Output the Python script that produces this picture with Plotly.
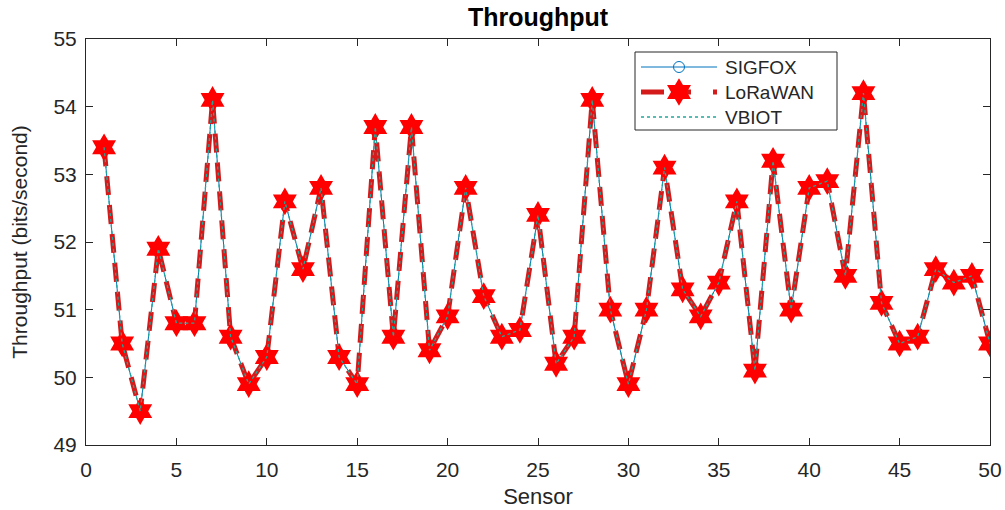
import plotly.graph_objects as go

# Sensor index and measured throughput (bits/second)
sensors = list(range(1, 51))
throughput = [
    53.4, 50.5, 49.5, 51.9, 50.8, 50.8, 54.1, 50.6, 49.9, 50.3,
    52.6, 51.6, 52.8, 50.3, 49.9, 53.7, 50.6, 53.7, 50.4, 50.9,
    52.8, 51.2, 50.6, 50.7, 52.4, 50.2, 50.6, 54.1, 51.0, 49.9,
    51.0, 53.1, 51.3, 50.9, 51.4, 52.6, 50.1, 53.2, 51.0, 52.8,
    52.9, 51.5, 54.2, 51.1, 50.5, 50.6, 51.6, 51.4, 51.5, 50.5,
]
sigfox = throughput
lorawan = throughput
vbiot = throughput

series_names = ["SIGFOX", "LoRaWAN", "VBIOT"]
x_ticks = [0, 5, 10, 15, 20, 25, 30, 35, 40, 45, 50]
y_ticks = [49, 50, 51, 52, 53, 54, 55]

FONT = "Liberation Sans, Arial, sans-serif"
AXIS_COLOR = "#262626"

# page geometry (pixels)
W, H = 1005, 510
M_L, M_R, M_T, M_B = 86, 15, 39, 65

styles = {
    "SIGFOX": dict(mode="lines+markers",
                   line=dict(color="#0072BD", width=1),
                   marker=dict(symbol="circle-open", size=11, color="#0072BD",
                               line=dict(width=1))),
    "LoRaWAN": dict(mode="lines+markers",
                    line=dict(color="#d41a1a", width=5, dash="19px,10px"),
                    marker=dict(symbol="hexagram", size=21, color="#ff0000",
                                line=dict(width=0))),
    "VBIOT": dict(mode="lines",
                  line=dict(color="#1fa89a", width=1.3, dash="dot")),
}

fig = go.Figure()
for name, values in zip(series_names, [sigfox, lorawan, vbiot]):
    fig.add_trace(go.Scatter(x=sensors, y=values, name=name,
                             showlegend=False, **styles[name]))

# Legend box drawn on an overlay axis measured in page pixels
box_x0, box_x1, box_y0, box_y1 = 635, 837, 52, 130
fig.add_trace(go.Scatter(
    x=[box_x0, box_x1, box_x1, box_x0, box_x0],
    y=[box_y0, box_y0, box_y1, box_y1, box_y0],
    mode="lines", fill="toself", fillcolor="white",
    line=dict(color=AXIS_COLOR, width=1),
    xaxis="x2", yaxis="y2", showlegend=False, hoverinfo="skip",
))
row_y = [67, 92, 117]
sample_x0, sample_x1, text_x = 641, 717, 723
# dash phase used for the LoRaWAN legend sample
legend_dash = {"LoRaWAN": "23px,7px,20px,22px,4px,20px"}
for name, yy in zip(series_names, row_y):
    st = styles[name]
    line = dict(st["line"])
    if name in legend_dash:
        line["dash"] = legend_dash[name]
    fig.add_trace(go.Scatter(
        x=[sample_x0, sample_x1], y=[yy, yy], mode="lines",
        line=line, xaxis="x2", yaxis="y2",
        showlegend=False, hoverinfo="skip",
    ))
    if "marker" in st:
        fig.add_trace(go.Scatter(
            x=[(sample_x0 + sample_x1) / 2], y=[yy], mode="markers",
            marker=st["marker"], xaxis="x2", yaxis="y2",
            showlegend=False, hoverinfo="skip",
        ))
    fig.add_annotation(x=text_x, y=yy, xref="x2", yref="y2", text=name,
                       showarrow=False, xanchor="left", yanchor="middle",
                       font=dict(family=FONT, size=19, color=AXIS_COLOR))

axis_common = dict(
    showline=True, linecolor=AXIS_COLOR, linewidth=1, mirror="ticks",
    ticks="inside", ticklen=7, tickcolor=AXIS_COLOR, tickwidth=1,
    showgrid=False, zeroline=False, automargin=False,
    tickfont=dict(family=FONT, size=21, color=AXIS_COLOR),
)

fig.update_layout(
    width=W, height=H,
    margin=dict(l=M_L, r=M_R, t=M_T, b=M_B),
    paper_bgcolor="white", plot_bgcolor="white",
    title=dict(text="<b>Throughput</b>", x=0.5, xanchor="center",
               xref="paper", y=0.966, yanchor="middle",
               font=dict(family=FONT, size=25, color="black")),
    xaxis=dict(range=[0, 50], tickvals=x_ticks, ticklabelstandoff=6,
               title=dict(text="Sensor", standoff=8,
                          font=dict(family=FONT, size=22, color=AXIS_COLOR)),
               **axis_common),
    yaxis=dict(range=[49, 55], tickvals=y_ticks, ticklabelstandoff=4,
               title=dict(text="Throughput (bits/second)", standoff=20,
                          font=dict(family=FONT, size=21, color=AXIS_COLOR)),
               **axis_common),
    xaxis2=dict(overlaying="x", range=[M_L, W - M_R], visible=False,
                fixedrange=True),
    yaxis2=dict(overlaying="y", range=[H - M_B, M_T], visible=False,
                fixedrange=True),
    showlegend=False,
)

fig.write_html("out.html")
